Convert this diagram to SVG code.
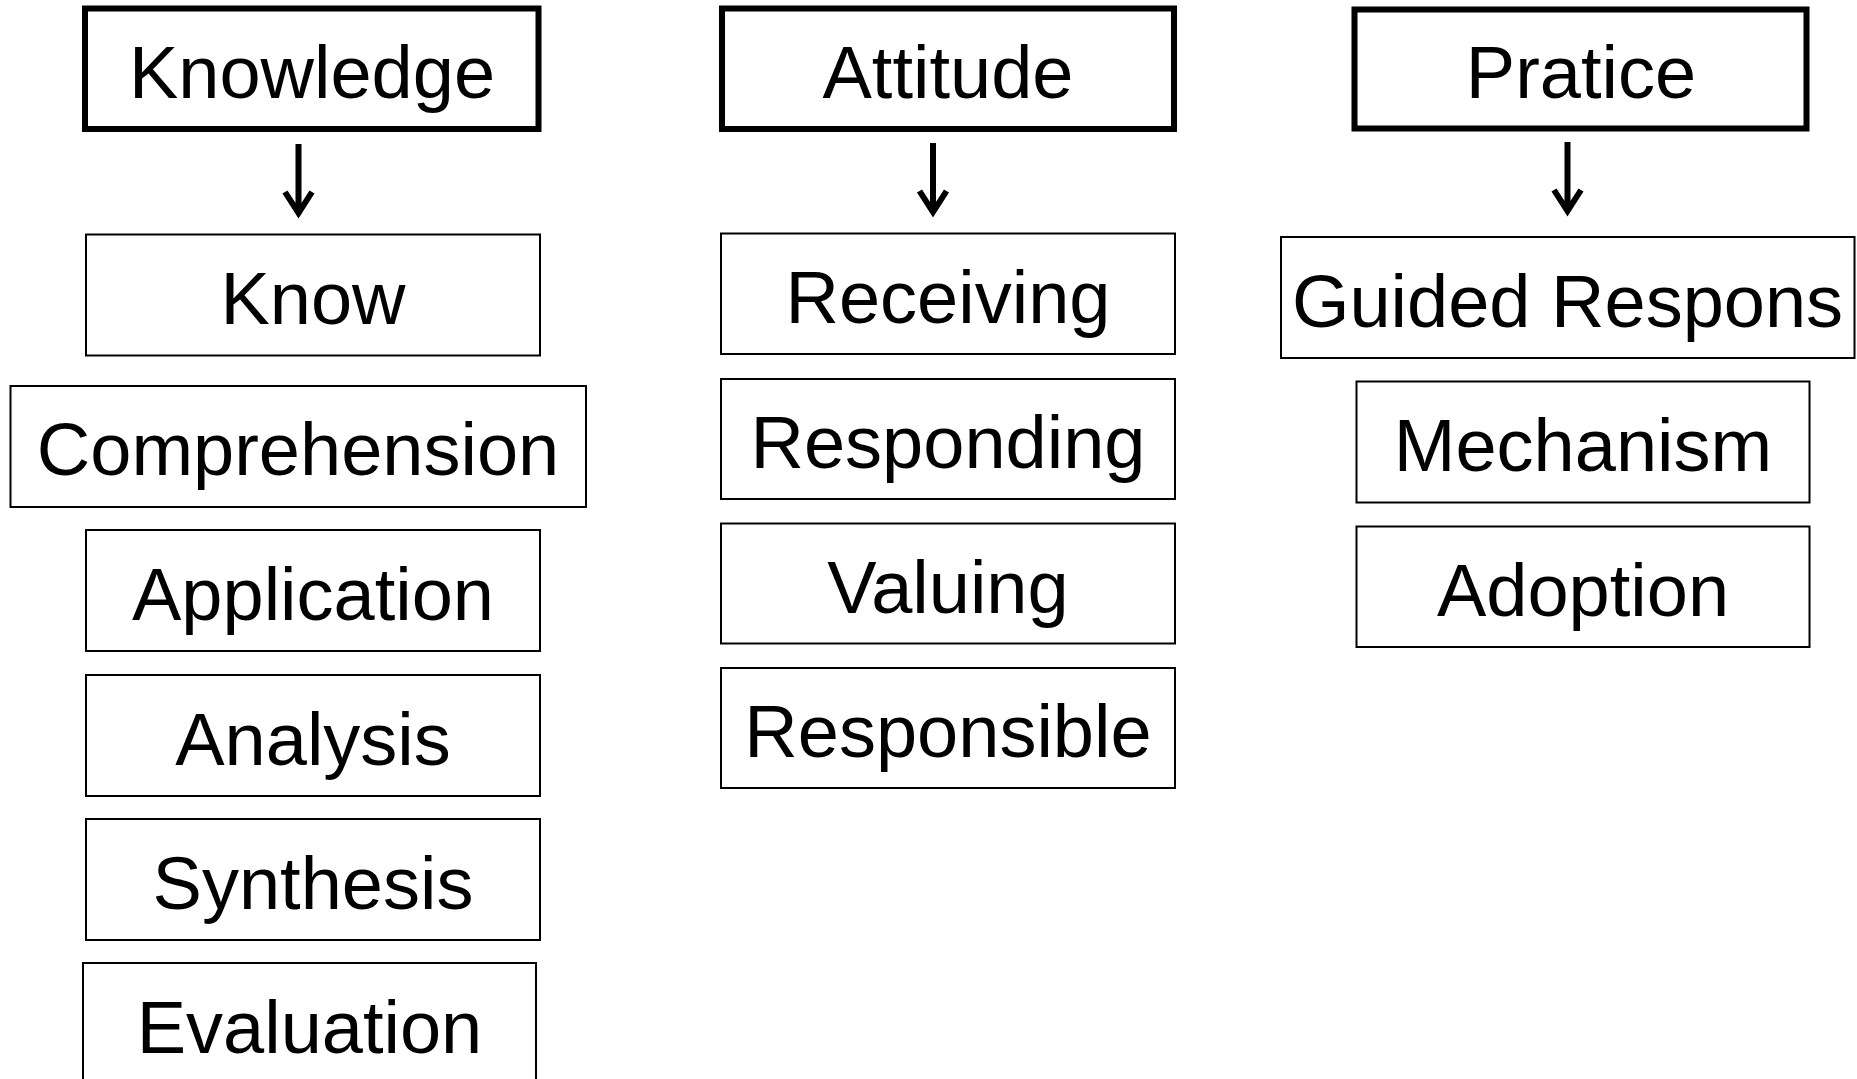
<svg xmlns="http://www.w3.org/2000/svg" width="1857" height="1079" viewBox="0 0 1857 1079">
<style>
.bg{fill:#fff}
.head rect{fill:#fff;stroke:#000;stroke-width:6}
.item rect{fill:#fff;stroke:#000;stroke-width:2}
text{font-family:"Liberation Sans",Arial,sans-serif;font-size:74px;fill:#000;text-anchor:middle}
.arr{fill:none;stroke:#000;stroke-width:6;stroke-linejoin:miter;stroke-linecap:butt}
</style>
<rect class="bg" x="0" y="0" width="1857" height="1079"/>
<g id="knowledge" class="head"><rect x="85" y="8.5" width="453.5" height="120.5"/><text x="312" y="97.5">Knowledge</text></g>
<g id="know" class="item"><rect x="86" y="234.5" width="454" height="121"/><text x="313" y="323.5">Know</text></g>
<g id="comprehension" class="item"><rect x="10.5" y="386" width="575.5" height="121"/><text x="298" y="475">Comprehension</text></g>
<g id="application" class="item"><rect x="86" y="530" width="454" height="121"/><text x="313" y="620">Application</text></g>
<g id="analysis" class="item"><rect x="86" y="675" width="454" height="121"/><text x="313" y="764.5">Analysis</text></g>
<g id="synthesis" class="item"><rect x="86" y="819" width="454" height="121"/><text x="313" y="908.5">Synthesis</text></g>
<g id="evaluation" class="item"><rect x="83" y="963" width="453" height="121"/><text x="309.5" y="1052.5">Evaluation</text></g>
<g id="attitude" class="head"><rect x="722" y="8.5" width="452" height="120.5"/><text x="948" y="97.5">Attitude</text></g>
<g id="receiving" class="item"><rect x="721" y="233.5" width="454" height="120.5"/><text x="948" y="322.5">Receiving</text></g>
<g id="responding" class="item"><rect x="721" y="379" width="454" height="120"/><text x="948" y="468">Responding</text></g>
<g id="valuing" class="item"><rect x="721" y="523.5" width="454" height="120"/><text x="948" y="612.5">Valuing</text></g>
<g id="responsible" class="item"><rect x="721" y="668" width="454" height="120"/><text x="948" y="757">Responsible</text></g>
<g id="pratice" class="head"><rect x="1354.5" y="9.5" width="452" height="119"/><text x="1581" y="97.5">Pratice</text></g>
<g id="guided" class="item"><rect x="1281" y="237" width="573.5" height="121"/><text x="1567.5" y="326.5">Guided Respons</text></g>
<g id="mechanism" class="item"><rect x="1356.5" y="381.5" width="453" height="121"/><text x="1583" y="471">Mechanism</text></g>
<g id="adoption" class="item"><rect x="1356.5" y="526.5" width="453" height="120.5"/><text x="1583" y="616">Adoption</text></g>
<g id="connectors">
<path class="arr" d="M298.5 144V213M285 192L298.5 213L312 192"/>
<path class="arr" d="M933 143V212M919.5 191L933 212L946.5 191"/>
<path class="arr" d="M1567.5 142V211M1554 190L1567.5 211L1581 190"/>
</g>
</svg>
